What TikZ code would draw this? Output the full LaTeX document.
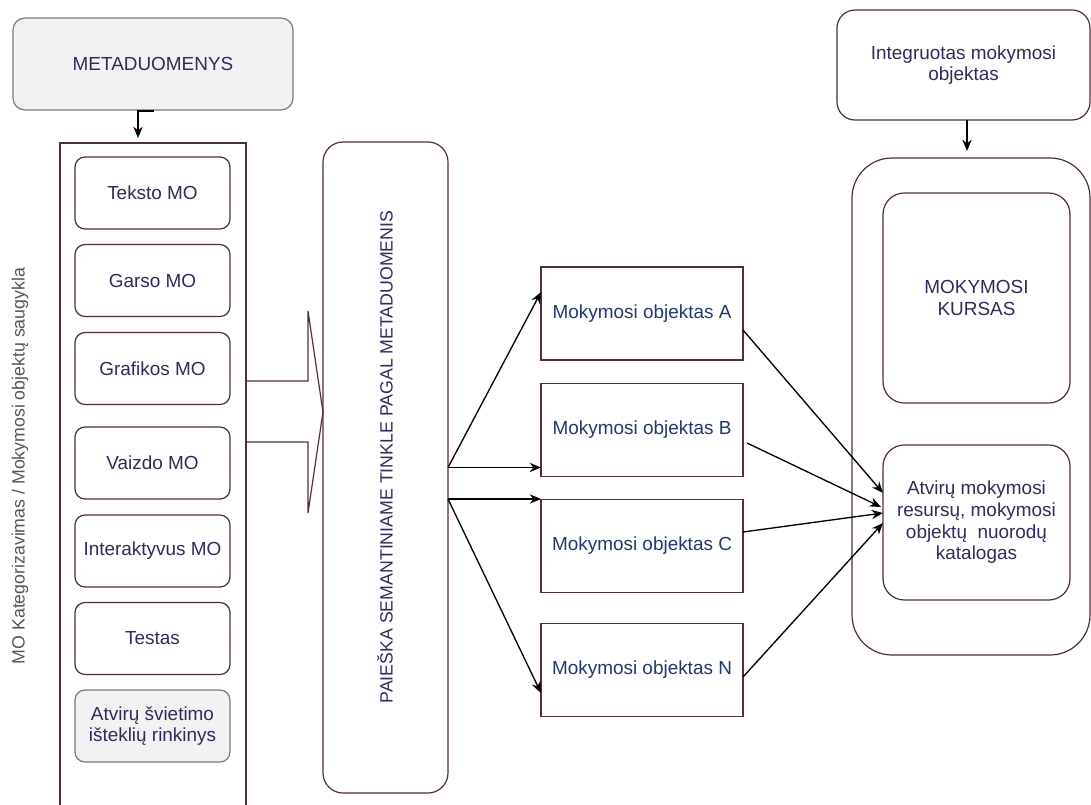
\documentclass[tikz,border=0pt]{standalone}
\usepackage{fontspec}
\setmainfont{Liberation Sans}
\usetikzlibrary{arrows.meta,calc}
\definecolor{edge}{HTML}{4F2F3F}
\definecolor{txt}{HTML}{2D2D5A}
\definecolor{motxt}{HTML}{22386E}
\definecolor{shade}{HTML}{F2F2F2}
\definecolor{greyedge}{HTML}{7A7A7A}
\definecolor{labeltxt}{HTML}{555555}
\begin{document}
\begin{tikzpicture}[x=0.75pt,y=-0.75pt,
  every node/.style={inner sep=0pt,outer sep=0pt,font=\fontsize{14.2pt}{16.2pt}\selectfont,text=txt,align=center},
  rbox/.style={draw=edge,line width=0.9pt,fill=white,rounded corners=7.5pt},
  greybox/.style={draw=greyedge,line width=0.9pt,fill=shade,rounded corners=9pt},
  sqbox/.style={draw=edge,line width=0.9pt,fill=white},
  mobox/.style={sqbox,minimum width=151.5pt,minimum height=69.75pt,text=motxt},
  itembox/.style={rbox,minimum width=116.25pt,minimum height=54pt},
  arr/.style={draw=black,line width=1pt,-{Stealth[length=8.5pt,width=7pt]}},
  vlabel/.style={rotate=90,font=\fontsize{13.3pt}{15pt}\selectfont}
]
\useasboundingbox (0,0) rectangle (1091,805);

% metadata header
\node[greybox,minimum width=210pt,minimum height=69pt] (meta) at (153,64) {METADUOMENYS};

% repository column with its item boxes
\node[sqbox,minimum width=139.5pt,minimum height=504pt] (lc) at (153,479) {};
\node[itembox] (teksto) at (152.5,193) {Teksto MO};
\node[itembox] (garso) at (152.5,280.5) {Garso MO};
\node[itembox] (grafikos) at (152.5,368.5) {Grafikos MO};
\node[itembox] (vaizdo) at (152.5,463) {Vaizdo MO};
\node[itembox] (inter) at (152.5,551) {Interaktyvus MO};
\node[itembox] (testas) at (152.5,638.5) {Testas};
\node[greybox,minimum width=116.25pt,minimum height=54pt,rounded corners=7.5pt] (atv) at (152.5,726) {Atvirų švietimo\\išteklių rinkinys};
\node[vlabel,text=labeltxt] (lclabel) at (20,466) {MO Kategorizavimas / Mokymosi objektų saugykla};

% semantic search column
\node[rbox,rounded corners=15pt,minimum width=93.75pt,minimum height=488.25pt] (sb) at (385.5,467.5) {};
\node[vlabel] (sblabel) at (385,457) {PAIEŠKA SEMANTINIAME TINKLE PAGAL METADUOMENIS};

% block arrow from the repository into the search
\draw[edge,line width=0.9pt,line join=miter]
  (lc.east |- 0,381) -- (308,381) -- (308,311) -- (sb.west |- 0,412) -- (308,513) -- (308,442) -- (lc.east |- 0,442);

% learning objects
\node[mobox] (A) at (642,313.5) {Mokymosi objektas A};
\node[mobox] (B) at (642,430) {Mokymosi objektas B};
\node[mobox] (C) at (642,546) {Mokymosi objektas C};
\node[mobox] (N) at (642,670) {Mokymosi objektas N};

% integrated object and course container
\node[rbox,rounded corners=13.5pt,minimum width=189.75pt,minimum height=82.5pt] (integ) at (963.5,65) {Integruotas mokymosi\\objektas};
\node[rbox,rounded corners=30pt,minimum width=178.5pt,minimum height=372.75pt] (rc) at (971,406.5) {};
\node[rbox,rounded corners=16pt,minimum width=140.25pt,minimum height=157.5pt] (kursas) at (976.5,298) {MOKYMOSI\\KURSAS};
\node[rbox,rounded corners=16pt,minimum width=140.25pt,minimum height=116.25pt] (katal) at (976.5,522.5) {Atvirų mokymosi\\resursų, mokymosi\\objektų\ \ nuorodų\\katalogas};

% connectors
\draw[arr] (meta.south) -- (meta.south |- 0,111) -| ($(lc.north)+(-15,-5)$);
\draw[arr] ($(integ.south)+(3.5,0)$) -- ($(integ.south)+(3.5,31)$);

\coordinate (fork) at ($(sb.east)+(0,31.5)$);
\draw[arr] (sb.east) -- ($(A.west)+(0,-21.5)$);
\draw[arr] (sb.east) -- (sb.east -| B.west);
\draw[arr] (fork) -- (fork -| C.west);
\draw[arr] (fork) -- ($(N.west)+(0,23)$);

\draw[arr] ($(A.east)+(0,16.5)$) -- ($(katal.west)+(0,-29.5)$);
\draw[arr] ($(B.east)+(4,13)$) -- ($(katal.west)+(-2,-15.5)$);
\draw[arr] ($(C.east)+(0,-14)$) -- ($(katal.west)+(0,-9.5)$);
\draw[arr] ($(N.east)+(0,7)$) -- ($(katal.west)+(0,0.5)$);
\end{tikzpicture}
\end{document}
